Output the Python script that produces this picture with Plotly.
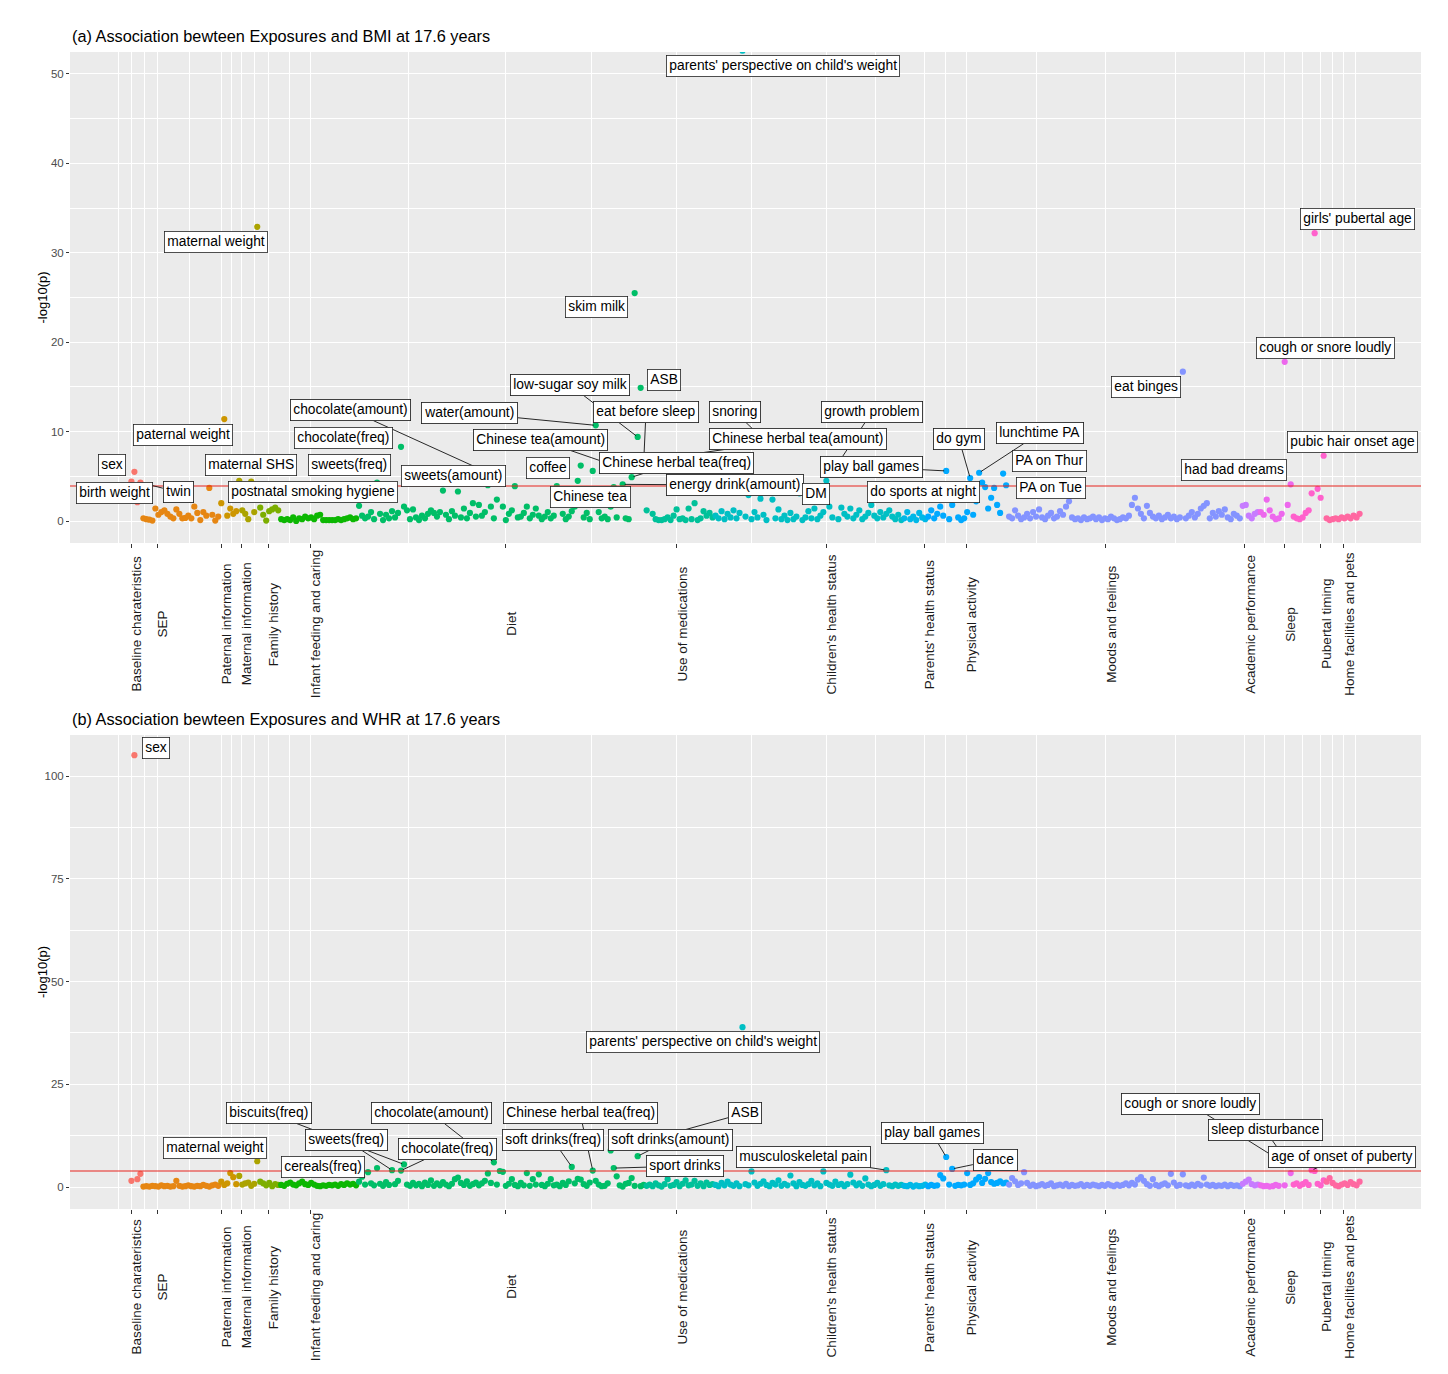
import plotly.graph_objects as go

# ---------------- data ----------------
categories = ["Baseline charateristics", "SEP", "Paternal information", "Maternal information",
              "Family history", "Infant feeding and caring", "Diet", "Use of medications",
              "Children's health status", "Parents' health status", "Physical activity",
              "Moods and feelings", "Academic performance", "Sleep", "Pubertal timing",
              "Home facilities and pets"]

# -log10(p), exposures vs BMI
bmi_baseline = [4.4, 5.5, 2.1, 4.3]
bmi_sep = [0.3, 0.2, 0.15, 0.05, 1.4, 0.7, 1.0, 1.2, 0.8, 0.5, 0.3, 1.3, 0.8, 0.3, 0.35, 0.6, 0.3,
           1.6, 0.9, 0.1, 1.0, 0.6, 3.7, 0.7, 0.05, 0.5]
bmi_paternal = [2.0, 11.4, 0.6, 1.4, 0.8, 1.1]
bmi_maternal = [4.5, 1.2, 0.8, 0.2, 4.4, 1.0, 32.9]
bmi_family = [1.5, 0.7, 0.05, 1.1, 1.3, 1.5, 1.2]
bmi_infant = [0.2, 0.1, 0.2, 0.1, 0.4, 0.0, 0.3, 0.2, 0.5, 0.3, 0.4, 0.2, 0.6, 0.7, 0.1, 0.1, 0.1,
              0.1, 0.1, 0.2, 0.1, 0.2, 0.3, 0.4, 0.2, 0.3]
bmi_diet = [1.7, 0.6, 0.3, 0.5, 1.0, 0.2, 4.3, 0.8, 0.1, 0.7, 0.3, 1.1, 0.4, 0.9, 8.3, 1.6, 1.2, 0.2, 1.3, 0.4,
            0.1, 0.6, 0.3, 0.8, 1.2, 0.9, 0.5, 1.0, 3.4, 0.7, 0.2, 1.1, 0.6, 3.3, 0.4, 1.4, 0.3, 0.9, 2.0, 0.5,
            1.8, 0.6, 1.0, 4.0, 1.6, 0.3, 2.4, 4.8, 1.6, 0.1, 0.8, 1.2, 3.9, 0.4, 0.5, 0.9, 1.6, 0.3, 0.7, 1.4,
            0.6, 0.2, 0.5, 1.0, 0.3, 0.6, 3.9, 2.0, 0.8, 0.2, 0.5, 1.1, 1.6, 4.5, 6.2, 0.4, 0.9, 0.2, 5.6, 10.7,
            1.0, 0.3, 0.5, 0.2, 1.6, 3.8, 0.4, 6.0, 4.1, 0.3, 0.2, 4.9, 25.5, 9.4, 14.9, 6.5]
bmi_medication = [1.2, 6.8, 0.8, 0.2, 0.1, 0.1, 0.2, 0.4, 0.1, 0.6, 1.3, 0.2, 0.3, 0.1, 1.4, 0.2, 2.0,
                  0.1, 0.3, 1.1, 0.6, 0.9, 0.4]
bmi_child_health = [0.6, 0.3, 1.1, 0.2, 0.8, 0.4, 1.2, 0.3, 0.9, 52.6,
                    0.5, 2.9, 0.2, 1.0, 0.4, 2.5, 0.7, 0.1, 8.5, 2.4,
                    0.3, 1.3, 0.2, 0.6, 0.1, 0.9, 0.2, 0.5, 3.1, 0.1,
                    0.4, 1.1, 0.3, 1.4, 0.2, 0.6, 1.0, 4.5, 1.6, 0.4,
                    6.0, 0.2, 1.5, 0.8, 0.5, 1.4, 0.3, 0.7, 1.2, 0.2,
                    0.5, 0.9, 1.8, 0.6, 0.3, 1.0, 0.4, 0.8, 1.2, 0.5,
                    0.2, 0.7, 0.1]
bmi_parent_health = [0.3, 1.0, 0.2, 0.5, 0.1, 0.9, 0.4, 0.2]
bmi_activity = [0.5, 1.2, 0.3, 0.8, 1.6, 0.6, 5.6, 0.2, 1.8, 2.5,
                0.4, 0.1, 0.3, 1.0, 4.8, 0.7, 2.2, 5.4, 4.3, 3.8,
                1.4, 2.6, 3.7, 1.8, 0.9, 5.3, 4.0]
bmi_moods = [0.5, 0.3, 1.2, 0.6, 0.2, 0.4, 0.8, 0.3, 1.0, 0.5,
             1.3, 0.4, 0.2, 0.6, 0.9, 0.3, 0.5, 1.1, 0.7, 1.6,
             2.2, 0.4, 0.2, 0.3, 0.1, 0.4, 0.2, 0.3, 0.5, 0.2,
             0.4, 0.1, 0.3, 0.2, 0.5, 0.3, 0.1, 0.2, 0.4, 0.3,
             0.6, 1.8, 2.6, 1.4, 0.8, 0.3, 1.7, 0.9, 0.5, 0.3,
             0.6, 0.2, 0.4, 0.7, 0.3, 0.5, 0.2, 0.4, 16.7, 0.3,
             0.6, 1.0, 0.4, 0.8, 1.4, 1.7, 2.0, 0.3, 0.9, 0.5,
             1.1, 0.7, 1.3, 0.4, 0.2, 0.8, 0.6, 0.3]
bmi_academic = [1.7, 1.8, 0.6, 0.3, 0.8, 1.0]
bmi_sleep = [1.0, 0.7, 2.4, 1.2, 0.5, 0.2, 0.3, 0.8, 17.8, 1.8, 4.1]
bmi_puberty = [0.5, 0.3, 0.2, 0.4, 0.9, 1.2, 3.1, 32.2, 3.6, 2.6, 7.3]
bmi_home = [0.3, 0.1, 0.2, 0.3, 0.2, 0.4, 0.3, 0.5, 0.3, 0.6, 0.4, 0.8]

# -log10(p), exposures vs WHR
whr_baseline = [1.5, 105.1, 1.9, 3.2]
whr_sep = [0.1, 0.2, 0.1, 0.3, 0.2, 0.1, 0.4, 0.2, 0.3, 0.1, 0.2, 1.5, 0.3, 0.1, 0.2, 0.4, 0.2, 0.1,
           0.3, 0.2, 0.5, 0.3, 0.1, 0.4, 0.6, 0.3]
whr_paternal = [1.3, 0.5, 0.9, 3.4, 2.4, 0.7]
whr_maternal = [2.7, 0.6, 0.9, 1.1, 0.3, 0.8, 6.3]
whr_family = [1.3, 0.9, 0.4, 1.0, 0.2, 0.7, 0.5]
whr_infant = [0.5, 0.3, 0.8, 1.1, 0.6, 0.4, 0.9, 1.3, 0.7, 0.5, 1.0, 0.6, 0.3, 0.2, 0.4, 0.3, 0.5,
              0.4, 0.6, 0.3, 0.7, 0.5, 0.9, 0.6, 0.8, 0.4]
whr_diet = [1.3, 2.5, 0.6, 3.6, 0.9, 0.4, 4.6, 0.8, 0.3, 1.2, 0.5, 4.1, 0.7, 1.5, 4.0, 5.5, 0.6, 0.3, 1.0, 0.4,
            0.8, 0.2, 1.1, 0.5, 1.6, 0.3, 0.9, 0.4, 1.2, 0.6, 0.2, 0.8, 1.9, 2.3, 1.0, 0.5, 1.4, 0.3, 0.7, 1.1,
            0.4, 0.9, 1.5, 3.3, 1.0, 6.0, 0.6, 3.9, 3.7, 0.3, 0.8, 1.9, 0.5, 0.2, 1.0, 0.4, 3.4, 0.3, 1.9, 0.6,
            3.1, 0.5, 0.2, 0.8, 1.9, 0.4, 0.6, 0.2, 1.0, 0.5, 1.4, 4.9, 0.9, 2.0, 1.8, 0.7, 0.3, 1.1, 4.0, 1.5,
            0.6, 0.2, 0.3, 0.9, 8.9, 4.6, 2.6, 0.4, 0.1, 0.8, 1.0, 2.2, 0.3, 7.5, 0.2, 0.5]
whr_medication = [0.3, 0.6, 0.2, 0.9, 0.4, 0.1, 0.7, 1.9, 0.3, 0.5, 1.2, 0.2, 0.8, 1.6, 0.4, 0.6, 1.5,
                  0.3, 0.9, 0.2, 1.1, 0.5, 0.7]
whr_child_health = [0.5, 0.2, 1.0, 0.4, 1.3, 0.6, 0.3, 0.9, 0.2, 38.9,
                    0.7, 0.4, 3.8, 1.1, 0.3, 0.8, 1.4, 0.5, 0.2, 1.0,
                    0.6, 1.6, 0.3, 0.8, 0.4, 2.8, 0.9, 0.2, 1.2, 0.5,
                    0.3, 0.7, 1.5, 0.4, 0.9, 0.2, 3.8, 1.0, 0.6, 0.3,
                    1.3, 0.5, 0.8, 0.2, 0.7, 3.0, 1.1, 0.4, 0.9, 0.3,
                    2.1, 0.6, 0.2, 0.5, 1.0, 0.3, 0.7, 4.1, 0.4, 0.2,
                    0.6, 0.3, 0.5]
whr_parent_health = [0.3, 0.2, 0.5, 0.1, 0.4, 0.2, 0.3, 0.6]
whr_activity = [0.2, 0.5, 0.3, 0.4, 2.9, 2.1, 7.3, 0.6, 4.4, 0.3,
                0.5, 0.4, 0.6, 3.4, 0.5, 0.9, 1.8, 2.4, 1.0, 2.0,
                3.4, 1.2, 0.8, 1.0, 1.4, 0.9, 1.1]
whr_moods = [0.6, 2.2, 1.4, 0.5, 0.9, 3.6, 1.0, 0.3, 0.6, 0.2,
             0.4, 0.7, 0.3, 0.5, 0.9, 0.2, 0.4, 0.6, 0.3, 0.8,
             0.2, 0.5, 0.3, 0.4, 0.7, 0.2, 0.5, 0.3, 0.6, 0.4,
             0.2, 0.5, 0.3, 0.7, 0.4, 0.2, 0.6, 0.3, 0.5, 0.9,
             0.4, 1.0, 0.6, 1.8, 2.4, 1.5, 0.7, 0.3, 1.9, 0.5,
             0.2, 0.6, 0.9, 0.4, 3.2, 1.1, 0.3, 0.5, 3.1, 0.4,
             0.2, 0.6, 0.3, 0.8, 0.4, 2.3, 0.6, 0.3, 0.5, 0.2,
             0.4, 0.3, 0.6, 0.2, 0.5, 0.3, 0.4, 0.2]
whr_academic = [0.8, 1.3, 1.8, 0.7, 0.4, 0.6]
whr_sleep = [0.4, 0.2, 0.3, 0.1, 0.2, 0.5, 0.3, 6.2, 0.4, 6.0, 3.4]
whr_puberty = [0.6, 0.9, 0.3, 0.7, 1.2, 0.5, 4.1, 3.9, 0.8, 0.4, 1.6]
whr_home = [1.3, 2.2, 1.0, 0.4, 0.2, 0.6, 0.9, 0.5, 1.2, 0.7, 0.4, 1.3]

bmi_sets = [bmi_baseline, bmi_sep, bmi_paternal, bmi_maternal, bmi_family, bmi_infant, bmi_diet,
            bmi_medication, bmi_child_health, bmi_parent_health, bmi_activity, bmi_moods,
            bmi_academic, bmi_sleep, bmi_puberty, bmi_home]
whr_sets = [whr_baseline, whr_sep, whr_paternal, whr_maternal, whr_family, whr_infant, whr_diet,
            whr_medication, whr_child_health, whr_parent_health, whr_activity, whr_moods,
            whr_academic, whr_sleep, whr_puberty, whr_home]

# category tick positions (exposure index units)
tick_pos = [0, 8.7, 30, 36.7, 45.7, 59.7, 125, 182, 232, 264.7, 278.7, 325.3, 371.7, 385, 397, 404.7]
threshold = 3.91
bmi_yticks = [0, 10, 20, 30, 40, 50]
whr_yticks = [0, 25, 50, 75, 100]

# labelled exposures: (text, exposure index, label-box centre in reference px, draw segment)
bmi_labels = [
    ("parents' perspective on child's weight", 204, 783, 66, 0),
    ("maternal weight", 42, 216, 242, 0),
    ("girls' pubertal age", 395, 1357, 219, 0),
    ("skim milk", 168, 596, 307, 0),
    ("cough or snore loudly", 385, 1325, 348, 0),
    ("eat binges", 351, 1146, 387, 0),
    ("low-sugar soy milk", 169, 570, 385, 1),
    ("ASB", 170, 664, 380, 0),
    ("chocolate(amount)", 123, 350, 410, 1),
    ("water(amount)", 155, 469, 413, 1),
    ("eat before sleep", 171, 646, 412, 1),
    ("snoring", 213, 735, 412, 1),
    ("growth problem", 235, 872, 412, 1),
    ("paternal weight", 31, 183, 435, 0),
    ("chocolate(freq)", 90, 343, 438, 0),
    ("Chinese tea(amount)", 163, 540, 440, 1),
    ("Chinese herbal tea(amount)", 173, 798, 439, 1),
    ("do gym", 280, 959, 439, 1),
    ("lunchtime PA", 283, 1040, 433, 1),
    ("pubic hair onset age", 398, 1352, 442, 0),
    ("sex", 1, 112, 465, 0),
    ("maternal SHS", 40, 251, 465, 0),
    ("sweets(freq)", 82, 349, 465, 0),
    ("coffee", 150, 548, 468, 0),
    ("Chinese herbal tea(freq)", 167, 676, 463, 1),
    ("play ball games", 272, 871, 467, 1),
    ("PA on Thur", 291, 1049, 461, 0),
    ("had bad dreams", 387, 1234, 470, 0),
    ("sweets(amount)", 119, 453, 476, 0),
    ("energy drink(amount)", 164, 735, 485, 1),
    ("birth weight", 0, 114, 493, 0),
    ("twin", 3, 178, 492, 1),
    ("postnatal smoking hygiene", 36, 313, 492, 0),
    ("Chinese tea", 149, 590, 497, 0),
    ("DM", 232, 816, 494, 0),
    ("do sports at night", 284, 923, 492, 0),
    ("PA on Tue", 292, 1051, 488, 0),
]
whr_labels = [
    ("sex", 1, 156, 748, 0),
    ("parents' perspective on child's weight", 204, 703, 1042, 0),
    ("cough or snore loudly", 384, 1190, 1104, 1),
    ("biscuits(freq)", 91, 269, 1113, 1),
    ("chocolate(amount)", 121, 431, 1113, 1),
    ("Chinese herbal tea(freq)", 154, 580, 1113, 1),
    ("ASB", 160, 745, 1113, 1),
    ("sleep disturbance", 386, 1265, 1130, 1),
    ("play ball games", 272, 932, 1133, 1),
    ("sweets(freq)", 87, 346, 1140, 1),
    ("soft drinks(freq)", 147, 553, 1140, 1),
    ("soft drinks(amount)", 169, 670, 1140, 1),
    ("maternal weight", 42, 215, 1148, 0),
    ("chocolate(freq)", 90, 447, 1149, 1),
    ("musculoskeletal pain", 252, 803, 1157, 1),
    ("age of onset of puberty", 394, 1342, 1157, 1),
    ("dance", 274, 995, 1160, 1),
    ("cereals(freq)", 82, 323, 1167, 0),
    ("sport drinks", 161, 685, 1166, 1),
]

# ---------------- style / layout ----------------
palette = ["#F8766D", "#E68613", "#CD9600", "#ABA300", "#7CAE00", "#0CB702", "#00BE67", "#00C19A",
           "#00BFC4", "#00B8E7", "#00A9FF", "#8494FF", "#C77CFF", "#ED68ED", "#FF61CC", "#FF68A1"]
FONT = "Liberation Sans, Arial, Helvetica, sans-serif"
PAGE_OFF = 8
W, H = 1432, 1358
ML, MR, MT, MB = 62, 19, 44, 157
PW, PH = W - ML - MR, H - MT - MB
n_total = sum(len(v) for v in bmi_sets)
pad = 0.05 * (n_total - 1)
XR = [-pad, n_total - 1 + pad]
A_TOP, A_BOT = 44, 535
B_TOP, B_BOT = 727, 1201
YA = [-2.46, 52.46]
YB = [-5.35, 110.0]


def paper_y(fy):
    return (MT + PH - fy) / PH


def px_x(rx):
    return XR[0] + (rx - PAGE_OFF - ML) / PW * (XR[1] - XR[0])


def px_y(ry, top, bot, rng):
    return rng[1] - (ry - PAGE_OFF - top) / (bot - top) * (rng[1] - rng[0])


fig = go.Figure()
panels = [(bmi_sets, "x", "y"), (whr_sets, "x2", "y2")]
flat = {}
for sets, xa, ya in panels:
    start = 0
    allv = []
    for ci, vals in enumerate(sets):
        xs = list(range(start, start + len(vals)))
        fig.add_trace(go.Scatter(x=xs, y=vals, mode="markers", xaxis=xa, yaxis=ya,
                                 marker=dict(color=palette[ci], size=6.2, line=dict(width=0)),
                                 name=categories[ci], showlegend=False, cliponaxis=True,
                                 hovertemplate="%{y}<extra>" + categories[ci] + "</extra>"))
        allv.extend(vals)
        start += len(vals)
    flat[xa] = allv

annotations = []
box_style = dict(bgcolor="white", bordercolor="#222222", borderwidth=0.8, borderpad=2.5,
                 font=dict(family=FONT, size=13.8, color="black"))
label_groups = [(bmi_labels, "x", "y", A_TOP, A_BOT, YA), (whr_labels, "x2", "y2", B_TOP, B_BOT, YB)]
# pass 1: segments
for labels, xa, ya, top, bot, rng in label_groups:
    for text, idx, bx, by, seg in labels:
        if not seg:
            continue
        annotations.append(dict(x=idx, y=flat[xa][idx], xref=xa, yref=ya,
                                ax=px_x(bx), ay=px_y(by, top, bot, rng), axref=xa, ayref=ya,
                                text=text, showarrow=True, arrowhead=0, arrowwidth=0.9,
                                arrowcolor="#111111", standoff=2, **box_style))
# pass 2: label boxes on top
for labels, xa, ya, top, bot, rng in label_groups:
    for text, idx, bx, by, seg in labels:
        annotations.append(dict(x=px_x(bx), y=px_y(by, top, bot, rng), xref=xa, yref=ya,
                                text=text, showarrow=False, xanchor="center", yanchor="middle",
                                **box_style))

# titles
annotations.append(dict(x=0, y=paper_y(28), xref="paper", yref="paper", xanchor="left", yanchor="middle",
                        text="(a) Association bewteen Exposures and BMI at 17.6 years", showarrow=False,
                        font=dict(family=FONT, size=16.3, color="black")))
annotations.append(dict(x=0, y=paper_y(711), xref="paper", yref="paper", xanchor="left", yanchor="middle",
                        text="(b) Association bewteen Exposures and WHR at 17.6 years", showarrow=False,
                        font=dict(family=FONT, size=16.3, color="black")))
# y titles
for cy in [(A_TOP + A_BOT) / 2, (B_TOP + B_BOT) / 2]:
    annotations.append(dict(x=(34 - ML) / PW, y=paper_y(cy), xref="paper", yref="paper",
                            xanchor="center", yanchor="middle", textangle=-90, text="-log10(p)",
                            showarrow=False, font=dict(family=FONT, size=13, color="black")))
# category labels
for xa, cy in [("x", 616), ("x2", 1279)]:
    for pos, cat in zip(tick_pos, categories):
        annotations.append(dict(x=pos, y=paper_y(cy), xref=xa, yref="paper", xanchor="center",
                                yanchor="middle", textangle=-90, text=cat, showarrow=False, xshift=5,
                                font=dict(family=FONT, size=13.5, color="#1A1A1A")))

minor_x = [tick_pos[0] - (tick_pos[1] - tick_pos[0]) / 2]
minor_x += [(a + b) / 2 for a, b in zip(tick_pos[:-1], tick_pos[1:])]
minor_x += [tick_pos[-1] + (tick_pos[-1] - tick_pos[-2]) / 2]

xaxis_common = dict(range=XR, tickvals=tick_pos, showticklabels=False, ticks="outside", ticklen=4,
                    tickwidth=1, tickcolor="#333333", showgrid=True, gridcolor="white", gridwidth=1.1,
                    zeroline=False, showline=False,
                    minor=dict(tickvals=minor_x, showgrid=True, gridcolor="white", gridwidth=0.55))
yaxis_common = dict(ticks="outside", ticklen=3, tickwidth=1, tickcolor="#333333", showgrid=True,
                    gridcolor="white", gridwidth=1.1, zeroline=False, showline=False,
                    tickfont=dict(family=FONT, size=11.5, color="#4D4D4D"))

fig.update_layout(
    width=W, height=H, margin=dict(l=ML, r=MR, t=MT, b=MB),
    plot_bgcolor="#EBEBEB", paper_bgcolor="white", showlegend=False,
    font=dict(family=FONT),
    xaxis=dict(domain=[0, 1], anchor="y", **xaxis_common),
    yaxis=dict(domain=[paper_y(A_BOT), paper_y(A_TOP)], anchor="x", range=YA, tickvals=bmi_yticks,
               minor=dict(tickvals=[5, 15, 25, 35, 45], showgrid=True, gridcolor="white", gridwidth=0.55),
               **yaxis_common),
    xaxis2=dict(domain=[0, 1], anchor="y2", **xaxis_common),
    yaxis2=dict(domain=[paper_y(B_BOT), paper_y(B_TOP)], anchor="x2", range=YB, tickvals=whr_yticks,
                minor=dict(tickvals=[12.5, 37.5, 62.5, 87.5], showgrid=True, gridcolor="white",
                           gridwidth=0.55),
                **yaxis_common),
    shapes=[dict(type="line", xref="x domain", x0=0, x1=1, yref="y", y0=threshold, y1=threshold,
                 line=dict(color="#E8251F", width=1.1)),
            dict(type="line", xref="x2 domain", x0=0, x1=1, yref="y2", y0=threshold, y1=threshold,
                 line=dict(color="#E8251F", width=1.1))],
    annotations=annotations,
)

fig.write_html("out.html")
